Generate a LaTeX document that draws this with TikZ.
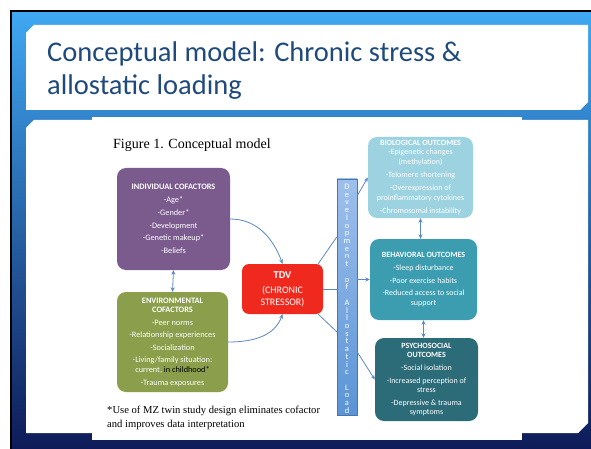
\documentclass[tikz,border=0pt]{standalone}
\usepackage{fontspec}
\setmainfont{Liberation Serif}
\newfontfamily\calfont{Carlito}
\usetikzlibrary{arrows.meta}
\definecolor{titleblue}{HTML}{1F4A7C}
\definecolor{skytop}{HTML}{3FA8F2}
\definecolor{skymid}{HTML}{2A78D2}
\definecolor{skybot}{HTML}{0E1B58}
\definecolor{purp}{HTML}{7B5B8E}
\definecolor{olive}{HTML}{8A9E4B}
\definecolor{tdvred}{HTML}{F0291E}
\definecolor{biob}{HTML}{9DD3E1}
\definecolor{behb}{HTML}{3C9DB0}
\definecolor{psyb}{HTML}{2C6C79}
\definecolor{linkc}{HTML}{5A88C4}
\definecolor{bartop}{HTML}{9EC0EC}
\definecolor{barbot}{HTML}{5A94D6}
\tikzset{
  box/.style={rounded corners=9pt, text=white, align=center, inner sep=0pt,
    font=\calfont\fontsize{8}{9.5}\selectfont},
  leftbox/.style={box, font=\calfont\fontsize{8.3}{9.9}\selectfont},
  link/.style={draw=linkc, line width=0.8pt},
  arr/.style={link, -{Stealth[length=4.5pt,width=4pt]}},
  darr/.style={link, {Stealth[length=4.5pt,width=4pt]}-{Stealth[length=4.5pt,width=4pt]}},
  barletter/.style={anchor=base, text=white, inner sep=0pt,
    font=\calfont\fontsize{8.4}{8.4}\selectfont},
  titletext/.style={anchor=base west, inner sep=0pt, text=titleblue,
    font=\calfont\fontsize{28.5}{28.5}\selectfont},
  serifnote/.style={anchor=base west, inner sep=0pt, font=\fontsize{10.6}{10.6}\selectfont},
}
\begin{document}
\begin{tikzpicture}[x=1pt,y=-1pt]
\useasboundingbox (0,0) rectangle (591,449);
% slide background
\fill[white] (0,0) rectangle (591,449);
\shade[top color=skytop, middle color=skymid, bottom color=skybot] (12,12) rectangle (591,449);
\draw[black, line width=2pt] (11,449) -- (11,11) -- (591,11);
% title panel and content panel
\fill[white] (26,33) -- (34,25) -- (588,25) -- (588,102) -- (580,110) -- (26,110) -- cycle;
\fill[white] (26,128) -- (34,120) -- (588,120) -- (588,423) -- (578,433) -- (26,433) -- cycle;
\fill[white] (92,117) rectangle (522,440);
% title
\node[titletext] (t1) at (47,62) {Conceptual model: Chronic stress \&};
\node[titletext] (t2) at (47,95) {allostatic loading};
% figure caption
\node[anchor=base west, inner sep=0pt, font=\fontsize{14}{14}\selectfont] (cap) at (113,149) {Figure 1. Conceptual model};
% cofactor boxes
\node[leftbox, fill=purp, minimum width=113pt, minimum height=102pt] (ind) at (173.5,219)
  {\textbf{INDIVIDUAL COFACTORS}\\[3.2pt] -Age*\\[2.8pt] -Gender*\\[2.8pt] -Development\\[2.8pt] -Genetic makeup*\\[2.8pt] -Beliefs};
\node[leftbox, fill=olive, minimum width=111pt, minimum height=100pt] (env) at (172.5,342)
  {\textbf{ENVIRONMENTAL}\\ \textbf{COFACTORS}\\[2.8pt] -Peer norms\\[2.4pt] -Relationship experiences\\[2.4pt] -Socialization\\[2.4pt] -Living/family situation:\\ current, \textcolor{black}{in childhood*}\\[2.8pt] -Trauma exposures};
% stressor
\node[box, rounded corners=7pt, fill=tdvred, minimum width=81pt, minimum height=50pt,
  font=\calfont\fontsize{10}{12}\selectfont] (tdv) at (282.5,289)
  {{\fontsize{10.5}{11}\selectfont\textbf{TDV}}\\[3pt] (CHRONIC\\ STRESSOR)};
% allostatic load bar with stacked lettering
\node[shade, top color=bartop, bottom color=barbot, draw=barbot!80!black, line width=0.3pt,
  minimum width=20pt, minimum height=236pt, inner sep=0pt] (bar) at (347,297) {};
\foreach \ch [count=\i] in {D,e,v,e,l,o,p,m,e,n,t,{},o,f,{},A,l,l,o,s,t,a,t,i,c,{},L,o,a,d}
  \node[barletter] (bl\i) at (347,{189.5+(\i-1)*7.72}) {\ch};
% outcome boxes
\node[box, fill=biob, minimum width=105pt, minimum height=81pt] (bio) at (420.5,177.5)
  {\textbf{BIOLOGICAL OUTCOMES}\\ -Epigenetic changes\\ (methylation)\\[3.7pt] -Telomere shortening\\[3.7pt] -Overexpression of\\ proinflammatory cytokines\\[3.7pt] -Chromosomal instability};
\node[box, fill=behb, minimum width=107pt, minimum height=81pt] (beh) at (423.5,279.5)
  {\textbf{BEHAVIORAL OUTCOMES}\\[3.2pt] -Sleep disturbance\\[3.2pt] -Poor exercise habits\\[3.2pt] -Reduced access to social\\ support};
\node[box, fill=psyb, minimum width=103pt, minimum height=83pt] (psy) at (426.5,379.5)
  {\textbf{PSYCHOSOCIAL}\\ \textbf{OUTCOMES}\\[3.3pt] -Social isolation\\[3.3pt] -Increased perception of\\ stress\\[3.3pt] -Depressive \& trauma\\ symptoms};
% footnote
\node[serifnote] (note1) at (107,413) {*Use of MZ twin study design eliminates cofactor};
\node[serifnote] (note2) at (107,427) {and improves data interpretation};
% connectors
\draw[darr] (ind.south) -- (env.north);
\draw[arr] (ind.east) to[out=0, in=110] (tdv.north);
\draw[arr] (env.east) to[out=0, in=-110] (tdv.south);
\draw[link] ([xshift=-5pt]tdv.north east) -- ([yshift=-58pt]bar.north west);
\draw[link] (tdv.east) -- (bar.west |- tdv.east);
\draw[link] ([xshift=-5pt]tdv.south east) -- ([yshift=-153pt]bar.north west);
\draw[arr] ([yshift=-17pt]bar.north east) -- (bio.west);
\draw[arr] (bar.east |- beh.west) -- (beh.west);
\draw[arr] ([yshift=-173pt]bar.north east) -- (psy.west);
\draw[darr] (bio.south) -- (bio.south |- beh.north);
\draw[darr] (beh.south) -- (beh.south |- psy.north);
\end{tikzpicture}
\end{document}
